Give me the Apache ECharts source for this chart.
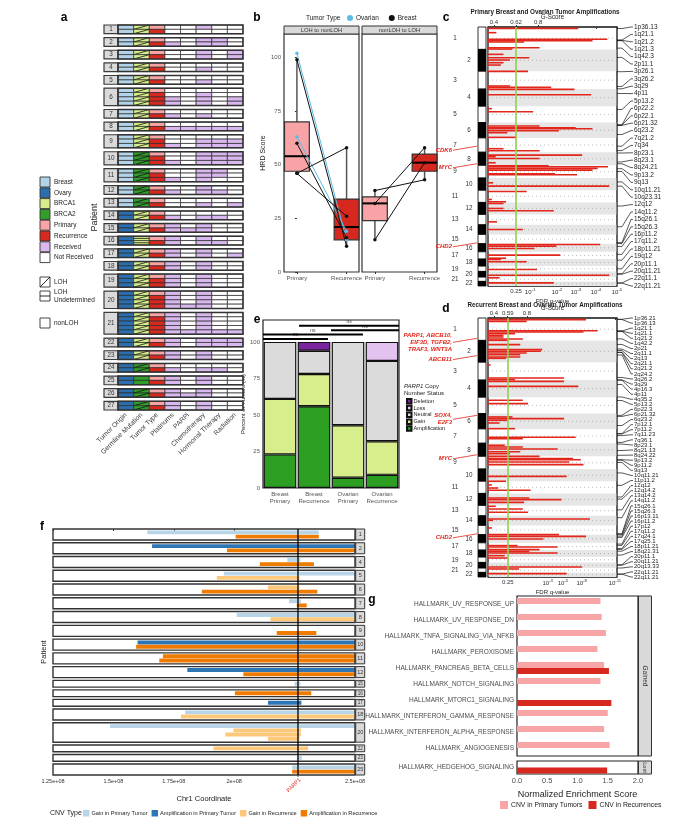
<!DOCTYPE html>
<html><head><meta charset="utf-8">
<script src="https://cdn.jsdelivr.net/npm/echarts@6/dist/echarts.min.js"></script>
<style>html,body{margin:0;padding:0;background:#fff}#chart{width:690px;height:840px}</style>
</head><body><div id="chart"></div>
<script>
const FONT = '"Liberation Sans", Arial, Helvetica, sans-serif';

// ---------------- Panel a data ----------------
const aColumns = ['Tumor Origin','Germline Mutation','Tumor Type','Platinums','PARPi','Chemotherapy','Hormonal Therapy','Radiation'];
const aPatients = [1,2,3,4,5,6,7,8,9,10,11,12,13,14,15,16,17,18,19,20,21,22,23,24,25,26,27];
const aSamples = [2,2,2,2,2,4,2,2,3,3,3,2,2,2,2,2,2,2,3,4,5,2,2,2,2,2,2];
const aOrigin = ['Breast','Breast','Breast','Breast','Breast','Breast','Breast','Breast','Breast','Breast','Breast','Breast','Breast',
  'Ovary','Ovary','Ovary','Ovary','Ovary','Ovary','Ovary','Ovary','Ovary','Ovary','Ovary','Ovary','Ovary','Ovary'];
const aGermline = ['BRCA1','BRCA1','BRCA1','BRCA1','BRCA1','BRCA1','BRCA1','BRCA1','BRCA1','BRCA2','BRCA2','BRCA2','BRCA2',
  'BRCA1','BRCA1','BRCA1','BRCA1','BRCA1','BRCA1','BRCA1','BRCA1','BRCA1','BRCA1','BRCA2','BRCA2','BRCA2','BRCA2'];
const aLOH = ['LOH','LOH','LOH','LOH','LOH','LOH','LOH','LOH','LOH','LOH','LOH','LOH','LOH','LOH','LOH','Undetermined',
  'LOH','LOH','LOH','LOH','LOH','LOH','LOH','LOH','nonLOH','LOH','LOH'];
const aTumorType = ['PR','PR','PR','PR','PR','PRRR','PR','PR','PRR','PRR','PRR','PR','PR','PR','PR','PR','PR','PR','PRR','PRRR','PRRRR','PR','PR','PR','PR','PR','PR'];
// Platinums, PARPi, Chemotherapy, Hormonal, Radiation (1 = received)
const aTreat = [
  ['00100','00000'],['00110','10110'],['00101','00101'],['00000','00100'],['00000','00100'],
  ['00000','00100','10101','10101'],['00000','10100'],['00000','11111'],['00000','00111','10111'],
  ['00111','00111','10111'],['00110','00110','10100'],['00100','10110'],['00000','00101'],
  ['00000','10110'],['10100','11100'],['10100','10110'],['10100','10101'],['10100','10100'],
  ['10100','10100','10100'],['10100','10100','10100','11100'],['10100','10100','10100','10100','11111'],
  ['10111','10111'],['10100','10100'],['00000','10110'],['10100','10100'],['10100','11100'],['10100','10100']];
const aLegend = [['Breast','Breast'],['Ovary','Ovary'],['BRCA1','BRCA1'],['BRCA2','BRCA2'],['Primary','P'],['Recurrence','R'],['Received','1'],['Not Received','0']];
const aColors = {Breast:'#b3d3e8', Ovary:'#2a6eae', BRCA1:'#d8ee8d', BRCA2:'#2f9f29', P:'#f8a4a6', R:'#d6281f', '1':'#d8b8ee', '0':'#ffffff'};

// ---------------- Panel b data ----------------
const bCats = ['Primary','Recurrence'];
const bFacets = ['LOH to nonLOH','nonLOH to LOH'];
const bLeftBox = [[0,46,47,54,70,99],[1,12,15,21,34,58]];   // [cat,min,q1,median,q3,max]
const bRightBox = [[0,15,24,32,35,38],[1,43,47,51,55,58]];
const bLeftOvarian = [[102,15],[63,19]];                      // [primary, recurrence]
const bLeftBreast = [[99,12],[60,16],[46,58],[46,26]];
const bRightBreast = [[38,43],[32,58],[15,51]];

// ---------------- Panels c / d data ----------------
const chrLen = [249,243,198,191,181,171,159,146,141,136,135,134,115,107,103,90,81,78,59,63,48,51];
const cBars = [[15,70],[63,6.5],[137,92.5],[152,81],[167,28],[230,40],[245,19],[304,12],[341,32],[367,17],[397,12],[423,10],[493,31],
  [656,17],[671,49],[693,67],[753,80],[908,3],[942,35],[1101,40],[1120,68],[1131,81],[1153,55],[1175,15],[1227,22],[1353,12],[1376,40],
  [1424,73],[1442,6],[1461,40],[1509,6],[1543,47],[1554,93],[1572,85],[1591,81],[1632,52],[1643,69],[1732,4],[1769,94],[1828,30],
  [1917,3],[1943,14],[1962,12],[2017,12],[2043,51],[2166,7],[2251,27],[2418,87],[2436,53],[2462,36],[2536,56],[2570,14],[2584,10],
  [2610,30],[2696,38],[2759,94],[2788,9],[2844,51]];
const dBars = [[18,76],[37,30],[141,85],[156,74],[174,21],[193,12],[211,12],[233,27],[248,16],[296,25],[352,42],[370,41],[389,30],[408,25],
  [433,25],[448,14],[522,2],[667,59],[685,21],[704,59],[760,70],[915,27],[952,31],[1100,19],[1119,59],[1137,15],[1167,9],[1230,21],
  [1326,68],[1341,27],[1415,13],[1434,27],[1456,54],[1486,25],[1508,17],[1538,40],[1563,66],[1575,72],[1601,63],[1630,74],[1760,61],
  [1815,14],[1856,3],[1890,8],[1915,33],[2001,32],[2019,57],[2049,28],[2093,6],[2123,27],[2160,31],[2234,79],[2249,4],[2334,3],
  [2408,55],[2427,76],[2456,43],[2530,23],[2545,54],[2575,40],[2594,32],[2612,54],[2642,13],[2668,16],[2768,73],[2790,24],[2842,61]];
const cBands = [['1p36.13',1,17],['1q21.1',1,145],['1q21.2',1,148],['1q21.3',1,152],['1q42.3',1,235],['2p11.1',2,89],['3p26.1',3,5],
  ['3q26.2',3,169],['3q29',3,195],['4p11',4,49],['5p13.2',5,36],['6p22.2',6,26],['6p22.1',6,28],['6p21.32',6,32],['6q23.2',6,133],
  ['7q21.2',7,92],['7q34',7,141],['8p23.1',8,9],['8q23.1',8,108],['8q24.21',8,128],['9p13.2',9,37],['9q13',9,68],['10q11.21',10,43],
  ['10q23.31',10,90],['12q12',12,40],['14q11.2',14,21],['15q26.1',15,91],['15q26.3',15,101],['16p11.2',16,30],['17q11.2',17,28],
  ['18p11.21',18,12],['19q12',19,30],['20p11.1',20,26],['20q11.21',20,31],['22q11.1',22,17],['22q11.21',22,19]];
const dBands = [['1p36.21',1,14],['1p36.13',1,17],['1q21.1',1,145],['1q21.1',1,146],['1q21.2',1,148],['1q42.2',1,232],['2p21',2,45],
  ['2q11.1',2,96],['2q13',2,112],['2q21.1',2,132],['2q21.2',2,134],['2q24.2',2,162],['3q26.2',3,169],['3q29',3,195],['4p16.3',4,2],
  ['4p11',4,49],['4q35.2',4,188],['5p13.2',5,36],['6p22.3',6,20],['6p21.32',6,32],['6q23.2',6,133],['7p12.1',7,52],['7p11.2',7,56],
  ['7q11.23',7,74],['7q36.1',7,150],['8p23.1',8,9],['8q21.13',8,81],['8q24.22',8,134],['9p13.2',9,37],['9p11.2',9,43],['9q13',9,68],
  ['10q11.21',10,43],['11p11.2',11,45],['12q12',12,40],['12q14.2',12,64],['13q14.2',13,49],['14q11.2',14,21],['15q26.1',15,91],
  ['15q26.3',15,101],['16p13.11',16,15],['16p11.2',16,30],['17p12',17,14],['17q11.2',17,28],['17q24.1',17,64],['17q25.1',17,73],
  ['18p11.21',18,12],['18q21.31',18,55],['20p11.1',20,26],['20q11.21',20,31],['20q13.33',20,62],['22q11.21',22,19],['22q11.21',22,20]];
const cGenes = [['CDK6',7,92],['MYC',8,128],['CHD2',15,93]];
const dGenes = [['PARP1, ABCB10,\nEIF3D, TGFB2,\nTRAF3, WNT3A',1,226],['ABCB11',2,169],['SOX4,\nE2F3',6,20],['MYC',8,128],['CHD2',15,93]];
const cThreshold = 21.7, dThreshold = 15.3;
const cBottomTicks = [[21.7,'0.25'],[32.6,'10^-1'],[53.5,'10^-2'],[68.2,'10^-3'],[83.7,'10^-4'],[100,'10^-5']];
const dBottomTicks = [[15.3,'0.25'],[46.3,'10^-3'],[58.1,'10^-5'],[72.6,'10^-8'],[98.4,'10^-11']];
const cTopTicks = [[0,'0.2'],[4.5,'0.4'],[21.7,'0.62'],[38.8,'0.8']];
const dTopTicks = [[0,'0.2'],[4.5,'0.4'],[15.3,'0.59'],[30.2,'0.8']];

// ---------------- Panel e data ----------------
const eCats = ['Breast\nPrimary','Breast\nRecurrence','Ovarian\nPrimary','Ovarian\nRecurrence'];
const eAmp = [23,56,7,9];
const eGain = [38,22,36,23];
const eNeutral = [39,16,57,55];
const eLoss = [null,null,null,13];
const eDel = [null,6,null,null];
const eBrackets = [[-0.5,1.41,102,'ns'],[-0.5,2.44,105,'ns'],[1.5,3.5,108,'ns'],[0.56,3.5,111,'ns']];

// ---------------- Panel f data ----------------
const fPatients = [1,2,4,5,6,7,8,9,10,11,12,15,16,17,18,20,22,23,25];
const fLanes = [2,2,2,2,2,2,2,2,2,2,2,1,1,1,2,4,1,1,2];
const fParp1 = 226.4;
const fTicks = [[125,'1.25e+08'],[150,'1.5e+08'],[175,'1.75e+08'],[200,'2e+08'],[250,'2.5e+08']];
// [patient, lane, start Mb, end Mb]
const fGainPrimary = [[1,0,164,235],[4,0,222,227.4],[5,0,195.7,250],[7,0,222.7,227.6],[8,0,201,250],[15,0,225,227.4],
  [18,0,179.7,250],[20,0,148.6,250],[23,0,226,228],[25,0,224,250]];
const fAmpPrimary = [[2,0,166,250],[10,0,160,250],[12,0,180.6,250],[17,0,214,227.8]];
const fGainRec = [[5,1,192.8,227],[6,0,214,227],[8,1,215,250],[9,1,225,227],[18,1,178,250],[20,1,199.7,227.6],[20,2,196.3,227.6],
  [20,3,214,227],[22,0,191.4,230.6]];
const fAmpRec = [[1,1,200.6,235],[2,1,197,250],[4,1,210.6,233],[6,1,186.6,234.4],[7,1,225.9,230],[9,1,217.6,234],[10,1,159.4,250],
  [11,0,170.5,250],[11,1,169,250],[12,1,203.8,250],[16,0,200.3,231.9],[25,1,224,250]];

// ---------------- Panel g data ----------------
const gCats = ['HALLMARK_UV_RESPONSE_UP','HALLMARK_UV_RESPONSE_DN','HALLMARK_TNFA_SIGNALING_VIA_NFKB','HALLMARK_PEROXISOME',
  'HALLMARK_PANCREAS_BETA_CELLS','HALLMARK_NOTCH_SIGNALING','HALLMARK_MTORC1_SIGNALING','HALLMARK_INTERFERON_GAMMA_RESPONSE',
  'HALLMARK_INTERFERON_ALPHA_RESPONSE','HALLMARK_ANGIOGENESIS'];
const gPrimary = [1.38,1.40,1.47,1.33,1.44,1.38,null,1.50,1.44,1.53];
const gRecurrent = [null,null,null,null,1.52,null,1.56,null,null,null];
const gLostCats = ['HALLMARK_HEDGEHOG_SIGNALING'];
const gLostPrimary = [null];
const gLostRecurrent = [1.49];

// ---------------- layout helpers ----------------
const A_GAP = 0.9;
const aStart = []; let aAcc = 0;
aSamples.forEach(n => { aStart.push(aAcc); aAcc += n + A_GAP; });
const aTotal = aAcc - A_GAP;

const chrStart = []; let gAcc = 0;
chrLen.forEach(l => { chrStart.push(gAcc); gAcc += l; });
const genomeLen = gAcc;

const F_PAD = 0.3, F_GAP = 0.65;
const fStart = []; let fAcc = 0;
fLanes.forEach(n => { fStart.push(fAcc); fAcc += n + 2 * F_PAD + F_GAP; });
const fTotal = fAcc - F_GAP;

function rectFrom(api, x0, y0, x1, y1) {
  const a = api.coord([x0, y0]), b = api.coord([x1, y1]);
  return {x: Math.min(a[0], b[0]), y: Math.min(a[1], b[1]), width: Math.abs(b[0] - a[0]), height: Math.abs(b[1] - a[1])};
}
function txt(x, y, text, size, extra) {
  return Object.assign({type: 'text', x: x, y: y, style: Object.assign({text: text, fontSize: size, fill: '#222', fontFamily: FONT}, extra || {})});
}

// ---------------- Panel a render ----------------
function renderA(params, api) {
  const i = params.dataIndex, y0 = api.value(0), n = aSamples[i];
  const ch = [];
  ch.push({type: 'rect', shape: rectFrom(api, 0, y0, 0.9, y0 + n), style: {fill: '#dadada', stroke: '#3a3a3a', lineWidth: 1.2}});
  const cc = api.coord([0.45, y0 + n / 2]);
  ch.push({type: 'text', x: cc[0], y: cc[1], style: {text: String(aPatients[i]), fontSize: 6.3, fill: '#333', align: 'center', verticalAlign: 'middle', fontFamily: FONT}});
  for (let s = 0; s < n; s++) {
    const fills = [aColors[aOrigin[i]], aColors[aGermline[i]], aColors[aTumorType[i][s]]].concat(aTreat[i][s].split('').map(c => aColors[c]));
    fills.forEach((f, c) => {
      const r = rectFrom(api, 0.9 + c, y0 + s, 1.9 + c, y0 + s + 1);
      ch.push({type: 'rect', shape: r, style: {fill: f, stroke: '#2a2a2a', lineWidth: 0.7}});
      if (c === 1 && aLOH[i] === 'LOH') ch.push({type: 'line', shape: {x1: r.x, y1: r.y + r.height, x2: r.x + r.width, y2: r.y}, style: {stroke: '#111', lineWidth: 0.8}});
      if (c === 1 && aLOH[i] === 'Undetermined') ch.push({type: 'line', shape: {x1: r.x, y1: r.y + r.height / 2, x2: r.x + r.width, y2: r.y + r.height / 2}, style: {stroke: '#111', lineWidth: 0.8}});
    });
  }
  ch.push({type: 'rect', shape: rectFrom(api, 0.9, y0, 8.9, y0 + n), style: {fill: 'none', stroke: '#333', lineWidth: 1.5}});
  return {type: 'group', children: ch};
}

// ---------------- Panel b render ----------------
function renderBox(params, api) {
  const cat = api.value(0), mn = api.value(1), q1 = api.value(2), md = api.value(3), q3 = api.value(4), mx = api.value(5);
  const r = rectFrom(api, cat - 0.25, q1, cat + 0.25, q3);
  const top = api.coord([cat, mx]), bot = api.coord([cat, mn]), med = api.coord([cat, md]);
  return {type: 'group', children: [
    {type: 'line', shape: {x1: top[0], y1: top[1], x2: top[0], y2: r.y}, style: {stroke: '#555', lineWidth: 1.5}},
    {type: 'line', shape: {x1: bot[0], y1: bot[1], x2: bot[0], y2: r.y + r.height}, style: {stroke: '#555', lineWidth: 1.5}},
    {type: 'rect', shape: r, style: {fill: cat === 0 ? '#f8a4a6' : '#d6281f', stroke: '#333', lineWidth: 1.2}},
    {type: 'line', shape: {x1: r.x, y1: med[1], x2: r.x + r.width, y2: med[1]}, style: {stroke: '#000', lineWidth: 2}}
  ]};
}
function pairSeries(pairs, name, color, xi, yi) {
  return pairs.map(p => ({type: 'line', name: name, xAxisIndex: xi, yAxisIndex: yi, data: [[0, p[0]], [1, p[1]]],
    symbol: 'circle', symbolSize: 3.5, itemStyle: {color: color}, lineStyle: {color: color, width: 1}, z: 5}));
}

// ---------------- Panels c/d builders ----------------
function supLabel(s) {
  const m = s.split('^');
  return m.length > 1 ? '{b|' + m[0] + '}{s|' + m[1] + '}' : '{b|' + s + '}';
}
function tickFmt(ticks) {
  return v => { const t = ticks.find(k => Math.abs(k[0] - v) < 1e-6); return t ? supLabel(t[1]) : ''; };
}
function genomeSeries(xi, yi, bars, bands, genes, thr) {
  return [
    {type: 'custom', xAxisIndex: xi, yAxisIndex: yi, silent: true, z: 1, data: chrLen.map((l, i) => [i]),
      renderItem: (params, api) => {
        const i = params.dataIndex, cs = params.coordSys;
        const top = api.coord([0, chrStart[i]])[1], bot = api.coord([0, chrStart[i] + chrLen[i]])[1];
        const ch = [];
        if (i % 2 === 1) ch.push({type: 'rect', shape: {x: cs.x + 0.7, y: top, width: cs.width - 1.4, height: bot - top}, style: {fill: '#e6e6e6'}});
        const mid = (top + bot) / 2;
        ch.push({type: 'line', shape: {x1: cs.x + 4, y1: mid, x2: cs.x + cs.width - 2, y2: mid}, style: {stroke: '#8a8a8a', lineWidth: 0.7, lineDash: [0.8, 3.2]}});
        ch.push({type: 'rect', shape: {x: cs.x - 10, y: top, width: 8, height: bot - top}, style: {fill: i % 2 ? '#000' : '#fff', stroke: '#000', lineWidth: 0.8}});
        ch.push({type: 'text', x: i % 2 ? cs.x - 19 : cs.x - 33, y: mid, style: {text: String(i + 1), fontSize: 6.3, fill: '#333', align: 'center', verticalAlign: 'middle', fontFamily: FONT}});
        return {type: 'group', children: ch};
      }},
    {type: 'custom', xAxisIndex: xi, yAxisIndex: yi, silent: true, z: 3, data: bars,
      renderItem: (params, api) => {
        const a = api.coord([0, api.value(0)]), b = api.coord([api.value(1), api.value(0)]);
        return {type: 'rect', shape: {x: a[0], y: a[1] - 0.8, width: b[0] - a[0], height: 1.6}, style: {fill: '#e2261b'}};
      },
      markLine: {silent: true, symbol: 'none', label: {show: false}, data: [{xAxis: thr}], lineStyle: {color: '#8fd14f', width: 1.6, type: 'solid'}}},
    {type: 'custom', xAxisIndex: xi, yAxisIndex: yi, silent: true, z: 3, data: bands.map((b, i) => [chrStart[b[1] - 1] + b[2], i]),
      renderItem: (params, api) => {
        const cs = params.coordSys, p = api.coord([100, api.value(0)]);
        const step = cs.height / (bands.length - 1);
        const ly = cs.y + api.value(1) * step;
        return {type: 'group', children: [
          {type: 'polyline', shape: {points: [[p[0], p[1]], [p[0] + 5, p[1]], [p[0] + 14, ly], [p[0] + 16, ly]]}, style: {stroke: '#111', lineWidth: 0.7, fill: 'none'}},
          {type: 'text', x: p[0] + 17, y: ly, style: {text: bands[params.dataIndex][0], fontSize: bands.length > 40 ? 6 : 6.5, fill: '#222', verticalAlign: 'middle', fontFamily: FONT}}
        ]};
      }},
    {type: 'custom', xAxisIndex: xi, yAxisIndex: yi, silent: true, z: 3, data: genes.map(g => [chrStart[g[1] - 1] + g[2]]),
      renderItem: (params, api) => {
        const cs = params.coordSys, p = api.coord([0, api.value(0)]);
        const ty = p[1] + 4;
        return {type: 'group', children: [
          {type: 'line', shape: {x1: cs.x - 35, y1: ty, x2: cs.x - 11, y2: p[1]}, style: {stroke: '#e2261b', lineWidth: 0.8}},
          {type: 'text', x: cs.x - 36, y: ty, style: {text: genes[params.dataIndex][0], fontSize: 6, fontStyle: 'italic', fontWeight: 'bold', fill: '#e2261b', align: 'right', verticalAlign: 'middle', lineHeight: 7, fontFamily: FONT}}
        ]};
      }}
  ];
}
function genomeXAxes(grid, bottom, top) {
  const rich = {b: {fontSize: 6, color: '#333', fontFamily: FONT}, s: {fontSize: 4.3, color: '#333', padding: [0, 0, 4, 0], fontFamily: FONT}};
  return [
    {gridIndex: grid, type: 'value', min: 0, max: 100, position: 'bottom', splitLine: {show: false}, axisLine: {show: false},
      axisTick: {customValues: bottom.map(t => t[0]), length: 2, lineStyle: {color: '#333'}},
      axisLabel: {customValues: bottom.map(t => t[0]), formatter: tickFmt(bottom), rich: rich, margin: 2},
      name: 'FDR q-value', nameLocation: 'middle', nameGap: 12, nameMoveOverlap: false, nameTextStyle: {fontSize: 6, color: '#222'}},
    {gridIndex: grid, type: 'value', min: 0, max: 100, position: 'top', splitLine: {show: false}, axisLine: {show: false},
      axisTick: {customValues: top.map(t => t[0]), length: 2, lineStyle: {color: '#333'}},
      axisLabel: {customValues: top.map(t => t[0]), formatter: tickFmt(top), rich: rich, margin: 2},
      name: 'G-Score', nameLocation: 'middle', nameGap: 7, nameMoveOverlap: false, nameTextStyle: {fontSize: 6.3, color: '#222'}}
  ];
}

// ---------------- Panel f renderers ----------------
function renderSeg(color) {
  return (params, api) => {
    const fi = fPatients.indexOf(api.value(0));
    const y0 = fStart[fi] + F_PAD + api.value(1);
    return {type: 'rect', shape: rectFrom(api, api.value(2), y0 + 0.04, api.value(3), y0 + 0.96), style: {fill: color}};
  };
}
function renderFrame(params, api) {
  const i = params.dataIndex, y0 = api.value(0), y1 = y0 + fLanes[i] + 2 * F_PAD;
  const r = rectFrom(api, 125, y0, 250, y1);
  return {type: 'group', children: [
    {type: 'rect', shape: r, style: {fill: 'none', stroke: '#333', lineWidth: 1.4}},
    {type: 'rect', shape: {x: r.x + r.width + 0.7, y: r.y, width: 9, height: r.height}, style: {fill: '#d9d9d9', stroke: '#333', lineWidth: 1}},
    {type: 'text', x: r.x + r.width + 5.2, y: r.y + r.height / 2, style: {text: String(fPatients[i]), fontSize: fLanes[i] > 1 ? 5.5 : 4.6, fill: '#333', align: 'center', verticalAlign: 'middle', fontFamily: FONT}}
  ]};
}
function renderParp(params, api) {
  const cs = params.coordSys, p = api.coord([api.value(0), 0]), q = api.coord([api.value(0), fTotal]);
  return {type: 'group', children: [
    {type: 'line', shape: {x1: p[0], y1: p[1], x2: q[0], y2: q[1]}, style: {stroke: '#000', lineWidth: 1.3}},
    {type: 'line', shape: {x1: q[0], y1: cs.y + cs.height, x2: q[0], y2: cs.y + cs.height + 2}, style: {stroke: '#333', lineWidth: 0.8}},
    {type: 'text', x: q[0] + 2, y: cs.y + cs.height + 4, rotation: Math.PI / 4, style: {text: 'PARP1', fontSize: 5.5, fill: '#e2261b', align: 'right', verticalAlign: 'middle', fontFamily: FONT}}
  ]};
}

// ---------------- Panel e bracket ----------------
function renderBracket(params, api) {
  const b = eBrackets[params.dataIndex];
  const base = api.coord([0, b[2]]), band = api.size([1, 0])[0];
  const x1 = base[0] + b[0] * band, x2 = base[0] + b[1] * band;
  return {type: 'group', children: [
    {type: 'line', shape: {x1: x1, y1: base[1], x2: x2, y2: base[1]}, style: {stroke: '#000', lineWidth: 2}},
    {type: 'text', x: (x1 + x2) / 2, y: base[1] - 1.5, style: {text: b[3], fontSize: 5, fill: '#444', align: 'center', verticalAlign: 'bottom', fontFamily: FONT}}
  ]};
}

// ---------------- Graphic (static text, legends, strips) ----------------
const G = [];
[['a',64,18],['b',257,18],['c',446,18],['d',446,309],['e',257,320],['f',42,527],['g',372,600]].forEach(l =>
  G.push(txt(l[1], l[2], l[0], 12, {fontWeight: 'bold', fill: '#000', align: 'center', verticalAlign: 'middle'})));
aLegend.forEach((it, i) => {
  G.push({type: 'rect', shape: {x: 40, y: 177 + i * 10.8, width: 10, height: 10}, style: {fill: aColors[it[1]], stroke: '#333', lineWidth: 0.9}});
  G.push(txt(54, 182 + i * 10.8, it[0], 6.5, {verticalAlign: 'middle'}));
});
G.push({type: 'rect', shape: {x: 40, y: 277, width: 10, height: 10}, style: {fill: '#fff', stroke: '#333', lineWidth: 0.9}});
G.push({type: 'line', shape: {x1: 40, y1: 287, x2: 50, y2: 277}, style: {stroke: '#111', lineWidth: 0.9}});
G.push(txt(54, 282, 'LOH', 6.5, {verticalAlign: 'middle'}));
G.push({type: 'rect', shape: {x: 40, y: 291, width: 10, height: 10}, style: {fill: '#fff', stroke: '#333', lineWidth: 0.9}});
G.push({type: 'line', shape: {x1: 40, y1: 296, x2: 50, y2: 296}, style: {stroke: '#111', lineWidth: 0.9}});
G.push(txt(54, 296, 'LOH\nUndetermined', 6.5, {verticalAlign: 'middle', lineHeight: 8}));
G.push({type: 'rect', shape: {x: 40, y: 318, width: 10, height: 10}, style: {fill: '#fff', stroke: '#333', lineWidth: 0.9}});
G.push(txt(54, 323, 'nonLOH', 6.5, {verticalAlign: 'middle'}));
// b
G.push(txt(306, 18, 'Tumor Type', 6.5, {verticalAlign: 'middle'}));
[[284, bFacets[0]], [362, bFacets[1]]].forEach(s => {
  G.push({type: 'rect', shape: {x: s[0], y: 26, width: 75, height: 8}, style: {fill: '#d9d9d9', stroke: '#333', lineWidth: 1}});
  G.push(txt(s[0] + 37.5, 30.2, s[1], 5.8, {align: 'center', verticalAlign: 'middle', fill: '#333'}));
});
// c / d titles
G.push(txt(545, 12, 'Primary Breast and Ovarian Tumor Amplifications', 6.3, {fontWeight: 'bold', align: 'center', verticalAlign: 'middle'}));
G.push(txt(545, 305, 'Recurrent Breast and Ovarian Tumor Amplifications', 6.3, {fontWeight: 'bold', align: 'center', verticalAlign: 'middle'}));
// e legend title
G.push({type: 'text', x: 404, y: 383, style: {text: '{i|PARP1} Copy\nNumber Status', fontSize: 6, lineHeight: 7, fill: '#222', fontFamily: FONT,
  rich: {i: {fontStyle: 'italic', fontSize: 6, fill: '#222', fontFamily: FONT}}}});
// f legend title
G.push(txt(50, 813, 'CNV Type', 7, {verticalAlign: 'middle'}));
// g strips
G.push({type: 'rect', shape: {x: 638.5, y: 596, width: 13, height: 160}, style: {fill: '#d9d9d9', stroke: '#333', lineWidth: 1}});
G.push({type: 'text', x: 645, y: 676, rotation: -Math.PI / 2, style: {text: 'Gained', fontSize: 6.5, fill: '#333', align: 'center', verticalAlign: 'middle', fontFamily: FONT}});
G.push({type: 'rect', shape: {x: 638.5, y: 761, width: 13, height: 13}, style: {fill: '#d9d9d9', stroke: '#333', lineWidth: 1}});
G.push({type: 'text', x: 645, y: 767.5, rotation: -Math.PI / 2, style: {text: 'Lost', fontSize: 5.5, fill: '#333', align: 'center', verticalAlign: 'middle', fontFamily: FONT}});

// ---------------- Option ----------------
const noAxis = {axisLine: {show: false}, axisTick: {show: false}, axisLabel: {show: false}, splitLine: {show: false}};
const lbl = {fontSize: 6, color: '#555', fontFamily: FONT};
const option = {
  animation: false,
  backgroundColor: '#fff',
  textStyle: {fontFamily: FONT},
  grid: [
    {left: 104, top: 25, width: 139, height: 385},
    {left: 284, top: 34, width: 75, height: 238, show: true, borderColor: '#333', borderWidth: 1.2},
    {left: 362, top: 34, width: 75, height: 238, show: true, borderColor: '#333', borderWidth: 1.2},
    {left: 488, top: 27, width: 129, height: 259, show: true, borderColor: '#111', borderWidth: 1.3},
    {left: 488, top: 318, width: 129, height: 259, show: true, borderColor: '#111', borderWidth: 1.3},
    {left: 263, top: 320, width: 136, height: 168, show: true, borderColor: '#222', borderWidth: 1.2},
    {left: 53, top: 529, width: 302, height: 246},
    {left: 517, top: 596, width: 121, height: 160, show: true, borderColor: '#222', borderWidth: 1.2},
    {left: 517, top: 761, width: 121, height: 13, show: true, borderColor: '#222', borderWidth: 1.2}
  ],
  xAxis: [
    {gridIndex: 0, type: 'value', min: 0, max: 8.9, axisLine: {show: false}, axisTick: {show: false}, splitLine: {show: false},
      axisLabel: {customValues: aColumns.map((c, k) => 1.4 + k), formatter: v => aColumns[Math.round(v - 1.4)], rotate: 45, fontSize: 6.8, color: '#444', margin: 4}},
    {gridIndex: 1, type: 'value', min: -0.26, max: 1.25, axisLine: {show: false}, splitLine: {show: false},
      axisTick: {customValues: [0, 1], length: 2, lineStyle: {color: '#333'}},
      axisLabel: Object.assign({customValues: [0, 1], formatter: v => bCats[Math.round(v)], margin: 3}, lbl)},
    {gridIndex: 2, type: 'value', min: -0.26, max: 1.25, axisLine: {show: false}, splitLine: {show: false},
      axisTick: {customValues: [0, 1], length: 2, lineStyle: {color: '#333'}},
      axisLabel: Object.assign({customValues: [0, 1], formatter: v => bCats[Math.round(v)], margin: 3}, lbl)},
    ...genomeXAxes(3, cBottomTicks, cTopTicks),
    ...genomeXAxes(4, dBottomTicks, dTopTicks),
    {gridIndex: 5, type: 'category', data: eCats, axisLine: {show: false}, axisTick: {length: 2, lineStyle: {color: '#333'}},
      axisLabel: Object.assign({margin: 3, lineHeight: 7, interval: 0}, lbl)},
    {gridIndex: 6, type: 'value', min: 125, max: 250, splitLine: {show: false}, axisLine: {show: false},
      axisTick: {customValues: fTicks.map(t => t[0]), length: 2, lineStyle: {color: '#333'}},
      axisLabel: {customValues: fTicks.map(t => t[0]), formatter: v => (fTicks.find(t => t[0] === v) || [0, ''])[1], fontSize: 5.5, color: '#333', margin: 3},
      name: 'Chr1 Coordinate', nameLocation: 'middle', nameGap: 20, nameTextStyle: {fontSize: 7.5, color: '#222'}},
    Object.assign({gridIndex: 7, type: 'value', min: 0, max: 2}, noAxis),
    {gridIndex: 8, type: 'value', min: 0, max: 2, interval: 0.5, splitLine: {show: false}, axisLine: {show: false},
      axisTick: {length: 2, lineStyle: {color: '#333'}},
      axisLabel: {fontSize: 7.5, color: '#4d4d4d', formatter: v => v.toFixed(1), margin: 3},
      name: 'Normalized Enrichment Score', nameLocation: 'middle', nameGap: 16, nameTextStyle: {fontSize: 9, color: '#222'}}
  ],
  yAxis: [
    {gridIndex: 0, type: 'value', min: 0, max: aTotal, inverse: true, axisLine: {show: false}, axisTick: {show: false}, axisLabel: {show: false}, splitLine: {show: false},
      name: 'Patient', nameLocation: 'middle', nameGap: 5, nameTextStyle: {fontSize: 9, color: '#222'}},
    {gridIndex: 1, type: 'value', min: 0, max: 111, axisLine: {show: false}, splitLine: {show: false},
      axisTick: {customValues: [0, 25, 50, 75, 100], length: 2, lineStyle: {color: '#333'}},
      axisLabel: Object.assign({customValues: [0, 25, 50, 75, 100], margin: 3}, lbl),
      name: 'HRD Score', nameLocation: 'middle', nameGap: 17, nameTextStyle: {fontSize: 7, color: '#222'}},
    Object.assign({gridIndex: 2, type: 'value', min: 0, max: 111}, noAxis),
    Object.assign({gridIndex: 3, type: 'value', min: 0, max: genomeLen, inverse: true}, noAxis),
    Object.assign({gridIndex: 4, type: 'value', min: 0, max: genomeLen, inverse: true}, noAxis),
    {gridIndex: 5, type: 'value', min: 0, max: 115, axisLine: {show: false}, splitLine: {show: false},
      axisTick: {customValues: [0, 25, 50, 75, 100], length: 2, lineStyle: {color: '#333'}},
      axisLabel: Object.assign({customValues: [0, 25, 50, 75, 100], margin: 3}, lbl),
      name: 'Percent of Tumors (%)', nameLocation: 'middle', nameGap: 14, nameTextStyle: {fontSize: 6, color: '#222'}},
    {gridIndex: 6, type: 'value', min: 0, max: fTotal, inverse: true, axisLine: {show: false}, axisTick: {show: false}, axisLabel: {show: false}, splitLine: {show: false},
      name: 'Patient', nameLocation: 'middle', nameGap: 5, nameTextStyle: {fontSize: 7.5, color: '#222'}},
    {gridIndex: 7, type: 'category', data: gCats, inverse: true, axisLine: {show: false}, axisTick: {length: 2, lineStyle: {color: '#333'}},
      axisLabel: {fontSize: 6.5, color: '#4d4d4d', margin: 3}},
    {gridIndex: 8, type: 'category', data: gLostCats, inverse: true, axisLine: {show: false}, axisTick: {length: 2, lineStyle: {color: '#333'}},
      axisLabel: {fontSize: 6.5, color: '#4d4d4d', margin: 3}}
  ],
  legend: [
    {data: ['Ovarian', 'Breast'], left: 347, top: 14.5, itemWidth: 6, itemHeight: 6, icon: 'circle', itemGap: 10, padding: 0, selectedMode: false,
      textStyle: {fontSize: 6.5, color: '#222', padding: [0, 0, 0, -2]}},
    {data: ['Deletion', 'Loss', 'Neutral', 'Gain', 'Amplification'], orient: 'vertical', left: 406, top: 398, itemWidth: 4.5, itemHeight: 4.5, itemGap: 0.3,
      padding: 0, icon: 'rect', selectedMode: false, textStyle: {fontSize: 5.6, color: '#222', lineHeight: 5, padding: [0, 0, 0, -3]}},
    {data: ['Gain in Primary Tumor', 'Amplification in Primary Tumor', 'Gain in Recurrence', 'Amplification in Recurrence'], left: 83, top: 810,
      itemWidth: 6.5, itemHeight: 6.5, itemGap: 4, padding: 0, icon: 'rect', selectedMode: false, textStyle: {fontSize: 5.6, color: '#222', padding: [0, 0, 0, -3]}},
    {data: ['CNV in Primary Tumors', 'CNV in Recurrences'], left: 500, top: 801, itemWidth: 8, itemHeight: 8, itemGap: 6, padding: 0, icon: 'rect',
      selectedMode: false, textStyle: {fontSize: 6.8, color: '#222', padding: [0, 0, 0, -2]}}
  ],
  graphic: {elements: G},
  series: [
    // a
    {type: 'custom', xAxisIndex: 0, yAxisIndex: 0, silent: true, data: aStart.map(y => [y]), renderItem: renderA},
    // b
    {type: 'custom', xAxisIndex: 1, yAxisIndex: 1, silent: true, data: bLeftBox, renderItem: renderBox},
    {type: 'custom', xAxisIndex: 2, yAxisIndex: 2, silent: true, data: bRightBox, renderItem: renderBox},
    ...pairSeries(bLeftOvarian, 'Ovarian', '#59bde6', 1, 1),
    ...pairSeries(bLeftBreast, 'Breast', '#111111', 1, 1),
    ...pairSeries(bRightBreast, 'Breast', '#111111', 2, 2),
    // c, d
    ...genomeSeries(3, 3, cBars, cBands, cGenes, cThreshold),
    ...genomeSeries(5, 4, dBars, dBands, dGenes, dThreshold),
    // e
    {type: 'bar', name: 'Amplification', xAxisIndex: 7, yAxisIndex: 5, stack: 'e', data: eAmp, barCategoryGap: '4%', itemStyle: {color: '#2c9f23', borderColor: '#111', borderWidth: 1.2}},
    {type: 'bar', name: 'Gain', xAxisIndex: 7, yAxisIndex: 5, stack: 'e', data: eGain, itemStyle: {color: '#d8ee8d', borderColor: '#111', borderWidth: 1.2}},
    {type: 'bar', name: 'Neutral', xAxisIndex: 7, yAxisIndex: 5, stack: 'e', data: eNeutral, itemStyle: {color: '#dbdbdb', borderColor: '#111', borderWidth: 1.2}},
    {type: 'bar', name: 'Loss', xAxisIndex: 7, yAxisIndex: 5, stack: 'e', data: eLoss, itemStyle: {color: '#e3c2ef', borderColor: '#111', borderWidth: 1.2}},
    {type: 'bar', name: 'Deletion', xAxisIndex: 7, yAxisIndex: 5, stack: 'e', data: eDel, itemStyle: {color: '#7a259e', borderColor: '#111', borderWidth: 1.2}},
    {type: 'custom', xAxisIndex: 7, yAxisIndex: 5, silent: true, data: eBrackets.map(b => [b[0], b[2]]), renderItem: renderBracket, z: 5},
    // f
    {type: 'custom', name: 'Gain in Primary Tumor', xAxisIndex: 8, yAxisIndex: 6, silent: true, data: fGainPrimary, renderItem: renderSeg('#b8d5e8'), itemStyle: {color: '#b8d5e8'}},
    {type: 'custom', name: 'Amplification in Primary Tumor', xAxisIndex: 8, yAxisIndex: 6, silent: true, data: fAmpPrimary, renderItem: renderSeg('#2e75b5'), itemStyle: {color: '#2e75b5'}},
    {type: 'custom', name: 'Gain in Recurrence', xAxisIndex: 8, yAxisIndex: 6, silent: true, data: fGainRec, renderItem: renderSeg('#fec87a'), itemStyle: {color: '#fec87a'}},
    {type: 'custom', name: 'Amplification in Recurrence', xAxisIndex: 8, yAxisIndex: 6, silent: true, data: fAmpRec, renderItem: renderSeg('#ef7c00'), itemStyle: {color: '#ef7c00'}},
    {type: 'custom', xAxisIndex: 8, yAxisIndex: 6, silent: true, data: fStart.map(y => [y]), renderItem: renderFrame, z: 4},
    {type: 'custom', xAxisIndex: 8, yAxisIndex: 6, silent: true, data: [[fParp1]], renderItem: renderParp, z: 5},
    // g
    {type: 'bar', name: 'CNV in Primary Tumors', xAxisIndex: 9, yAxisIndex: 7, data: gPrimary, barWidth: 6, barGap: '0%', itemStyle: {color: '#f8a5a8'}},
    {type: 'bar', name: 'CNV in Recurrences', xAxisIndex: 9, yAxisIndex: 7, data: gRecurrent, barWidth: 6, barGap: '0%', itemStyle: {color: '#d6281f'}},
    {type: 'bar', name: 'CNV in Primary Tumors', xAxisIndex: 10, yAxisIndex: 8, data: gLostPrimary, barWidth: 6, barGap: '0%', itemStyle: {color: '#f8a5a8'}},
    {type: 'bar', name: 'CNV in Recurrences', xAxisIndex: 10, yAxisIndex: 8, data: gLostRecurrent, barWidth: 6, barGap: '0%', itemStyle: {color: '#d6281f'}}
  ]
};
const chart = echarts.init(document.getElementById('chart'), null, {renderer: 'canvas'});
chart.setOption(option);
</script></body></html>
